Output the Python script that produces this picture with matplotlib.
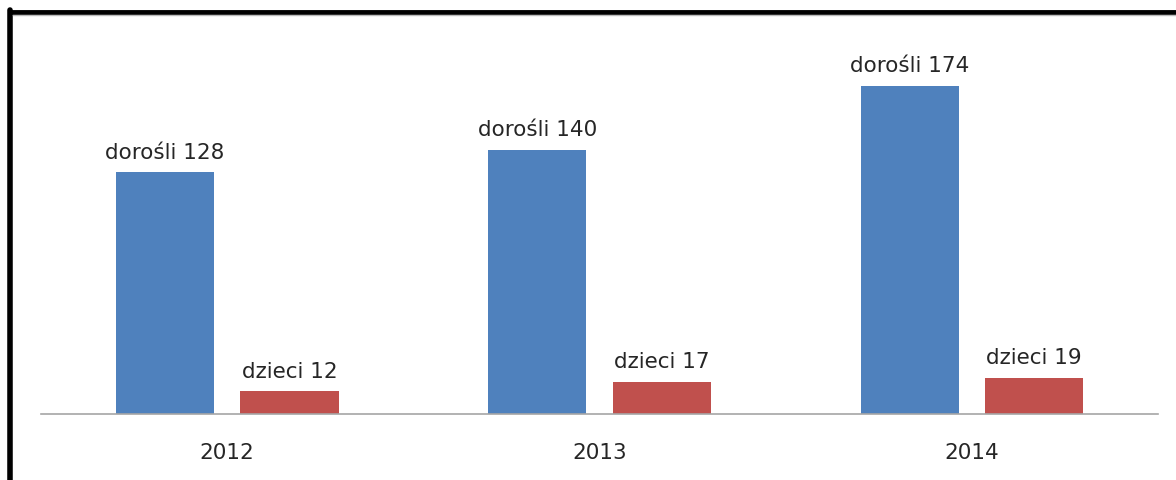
import matplotlib.pyplot as plt
from matplotlib.lines import Line2D
import numpy as np

years = ['2012', '2013', '2014']
dorosli = [128, 140, 174]
dzieci = [12, 17, 19]

plt.rcParams['font.family'] = ['DejaVu Sans']

fig = plt.figure(figsize=(11.76, 4.8), dpi=100)
ax = fig.add_axes([0.0349, 0.1375, 0.9498, 0.7862])

x = np.arange(len(years))
w = 0.264
off = 0.167
b1 = ax.bar(x - off, dorosli, w, color='#4F81BD')
b2 = ax.bar(x + off, dzieci, w, color='#C0504D')

for rect, v in zip(b1, dorosli):
    ax.annotate('dorośli %d' % v, (rect.get_x() + rect.get_width() / 2, v),
                xytext=(0, 7), textcoords='offset points', ha='center', va='bottom',
                fontsize=15.5, color='#262626')
for rect, v in zip(b2, dzieci):
    ax.annotate('dzieci %d' % v, (rect.get_x() + rect.get_width() / 2, v),
                xytext=(0, 7), textcoords='offset points', ha='center', va='bottom',
                fontsize=15.5, color='#262626')

ax.set_xlim(-0.5, 2.5)
ax.set_ylim(0, 200)
ax.set_xticks(x)
ax.set_xticklabels(years, fontsize=15.5, color='#262626')
ax.tick_params(axis='x', length=0, pad=21)
ax.set_yticks([])
for s in ['top', 'right', 'left']:
    ax.spines[s].set_visible(False)
ax.spines['bottom'].set_color('#A6A6A6')
ax.spines['bottom'].set_linewidth(1.2)

# black frame (left and top) with a light shadow under the top
H = 480.0
Wd = 1176.0
fig.add_artist(Line2D([10 / Wd, 10 / Wd], [0, 1 - 10 / H], color='black', lw=4, solid_capstyle='round'))
fig.add_artist(Line2D([10 / Wd, 1], [1 - 12 / H, 1 - 12 / H], color='black', lw=3.5, solid_capstyle='round'))
fig.add_artist(Line2D([13 / Wd, 1], [1 - 14.8 / H, 1 - 14.8 / H], color='#BBBBBB', lw=1))

fig.savefig('out.png', dpi=100)
